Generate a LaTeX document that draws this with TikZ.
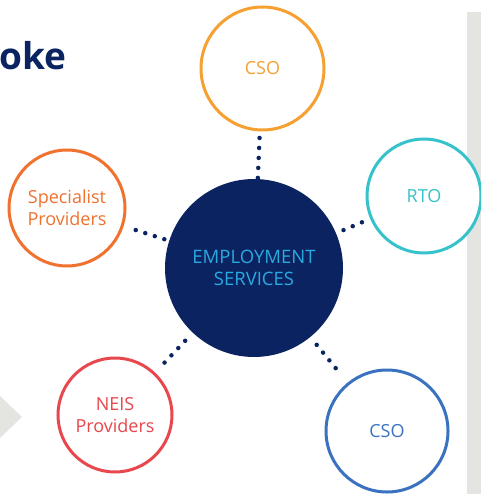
\documentclass[tikz,border=0pt]{standalone}
\usepackage{fontspec}
\setmainfont{Open Sans}
\usepackage{tikz}
\usetikzlibrary{shapes.geometric, arrows}
\definecolor{navy}{HTML}{0B2461}
\definecolor{skyblue}{HTML}{2AA8E0}
\definecolor{csoorange}{HTML}{F5A030}
\definecolor{rtoteal}{HTML}{35C2CB}
\definecolor{csoblue}{HTML}{3A72C0}
\definecolor{neisred}{HTML}{E8474E}
\definecolor{specorange}{HTML}{F0722E}
\definecolor{panelgrey}{HTML}{E4E4E0}
\tikzstyle{hub} = [circle, minimum size=178pt, inner sep=0pt, fill=navy, text=skyblue, align=center, font=\fontsize{18.5}{22}\selectfont]
\tikzstyle{spoke} = [circle, inner sep=0pt, line width=3pt, fill=white, align=center, font=\fontsize{18}{22}\selectfont]
\tikzstyle{dots} = [draw=navy, line width=4.5pt, line cap=round, dash pattern=on 0pt off 10pt]

\begin{document}
\begin{tikzpicture}[x=1pt, y=-1pt]
\useasboundingbox (0,0) rectangle (481,494);
\clip (0,0) rectangle (481,494);

% Background
\fill [panelgrey] (467,12) rectangle (481,494);
\fill [panelgrey] (0,396) -- (22,417) -- (0,438) -- cycle;
\node (title) [anchor=base west, inner sep=0pt, text=navy, font=\fontsize{37}{40}\selectfont\bfseries] at (-1,70) {oke};

% Nodes
\node (es) [hub] at (254,268) {EMPLOYMENT\\SERVICES};
\node (csotop) [spoke, minimum size=123pt, draw=csoorange, text=csoorange] at (262.5,68.5) {CSO};
\node (rto) [spoke, minimum size=114pt, draw=rtoteal, text=rtoteal] at (424,196) {RTO};
\node (csobot) [spoke, minimum size=122pt, draw=csoblue, text=csoblue] at (387,431) {CSO};
\node (neis) [spoke, minimum size=114pt, draw=neisred, text=neisred] at (115,415) {NEIS\\Providers};
\node (spec) [spoke, minimum size=116pt, draw=specorange, text=specorange] at (67,208) {Specialist\\Providers};

% Connectors
\draw [dots, shorten <=1pt, shorten >=6pt] (es) -- (csotop);
\draw [dots, shorten <=8pt, shorten >=7pt] (es) -- (rto);
\draw [dots, shorten <=10pt, shorten >=16pt] (es) -- (csobot);
\draw [dots, shorten <=11pt, shorten >=10pt] (es) -- (neis);
\draw [dots, shorten <=5pt, shorten >=9pt] (es) -- (spec);

\end{tikzpicture}
\end{document}
